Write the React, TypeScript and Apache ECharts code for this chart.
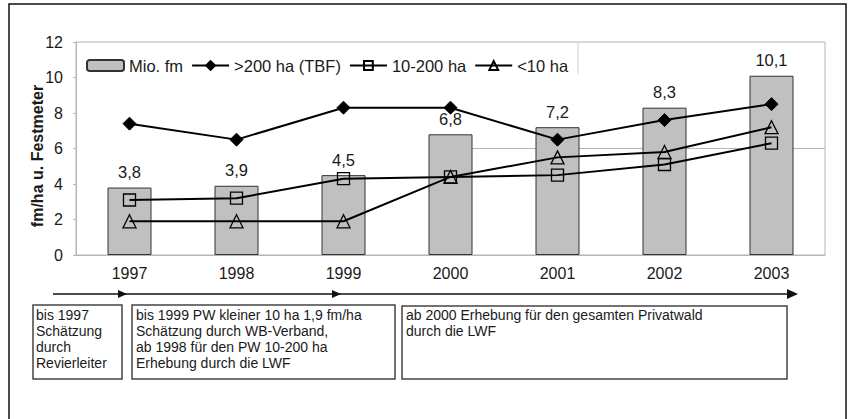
import React, { useEffect, useRef } from "react";
import * as echarts from "echarts";

const years = ["1997", "1998", "1999", "2000", "2001", "2002", "2003"];
const mioFm = [3.8, 3.9, 4.5, 6.8, 7.2, 8.3, 10.1];
const over200 = [7.4, 6.5, 8.3, 8.3, 6.5, 7.6, 8.5];
const mid10to200 = [3.1, 3.2, 4.3, 4.4, 4.5, 5.1, 6.3];
const under10 = [1.9, 1.9, 1.9, 4.4, 5.5, 5.8, 7.2];
const yTicks = { min: 0, max: 12, interval: 2 };

const box1 = ["bis 1997", "Schätzung", "durch", "Revierleiter"];
const box2 = [
  "bis 1999 PW kleiner 10 ha 1,9 fm/ha",
  "Schätzung durch WB-Verband,",
  "ab 1998 für den PW 10-200 ha",
  "Erhebung durch die LWF",
];
const box3 = ["ab 2000 Erhebung für den gesamten Privatwald", "durch die LWF"];

const FONT = "'Liberation Sans', Arial, sans-serif";
const TXT = "#1a1a1a";

export default function App() {
  const ref = useRef<HTMLDivElement>(null);
  useEffect(() => {
    const chart = echarts.init(ref.current!, null, { renderer: "svg" });
    const lineSeries = (name: string, data: number[], symbol: string, size: number, filled: boolean) => ({
      name,
      type: "line",
      data,
      symbol,
      symbolSize: size,
      showAllSymbol: true,
      z: 5,
      lineStyle: { color: "#000", width: 2 },
      itemStyle: filled
        ? { color: "#000", borderColor: "#000", borderWidth: 1 }
        : { color: "rgba(0,0,0,0)", borderColor: "#000", borderWidth: 1.3 },
    });

    const boxText = (lines: string[], x: number) =>
      lines.map((t, i) => ({
        type: "text",
        x,
        y: 315 + i * 16,
        style: { text: t, font: `14px ${FONT}`, fill: TXT, verticalAlign: "middle" },
        z: 10,
      }));

    const option: any = {
      animation: false,
      backgroundColor: "#fff",
      grid: { left: 76, right: 25, top: 42, bottom: 164, show: true, borderColor: "#b5b5b5", borderWidth: 1 },
      legend: {
        left: 81,
        top: 52,
        itemWidth: 37,
        itemHeight: 11,
        itemGap: 8,
        textStyle: { fontFamily: FONT, fontSize: 16.5, color: TXT },
        data: ["Mio. fm", ">200 ha (TBF)", "10-200 ha", "<10 ha"],
      },
      xAxis: {
        type: "category",
        data: years,
        axisLine: { lineStyle: { color: "#b5b5b5" } },
        axisTick: { show: false },
        axisLabel: { fontFamily: FONT, fontSize: 16, color: TXT, margin: 10 },
      },
      yAxis: {
        type: "value",
        ...yTicks,
        splitLine: { show: false },
        axisLine: { show: true, lineStyle: { color: "#b5b5b5" } },
        axisTick: { show: true, length: 3, lineStyle: { color: "#b5b5b5" } },
        axisLabel: { fontFamily: FONT, fontSize: 16, color: TXT, margin: 13 },
      },
      series: [
        {
          name: "Mio. fm",
          type: "bar",
          data: mioFm,
          barWidth: 44,
          z: 2,
          itemStyle: { color: "#c0c0c0", borderColor: "#333", borderWidth: 1 },
          label: {
            show: true,
            position: "top",
            distance: 7,
            fontFamily: FONT,
            fontSize: 16.5,
            color: TXT,
            formatter: (p: any) => String(p.value).replace(".", ","),
          },
        },
        lineSeries(">200 ha (TBF)", over200, "diamond", 13, true),
        lineSeries("10-200 ha", mid10to200, "rect", 12, false),
        lineSeries("<10 ha", under10, "triangle", 13, false),
      ],
    };
    chart.setOption(option);

    const [x6a, y6] = chart.convertToPixel({ gridIndex: 0 }, [3, 6]) as number[];

    chart.setOption({
      graphic: [
        {
          type: "line",
          z: 1,
          shape: { x1: x6a, y1: y6, x2: 825, y2: y6 },
          style: { stroke: "#b5b5b5", lineWidth: 1 },
        },
        {
          type: "line",
          z: 1,
          shape: { x1: 578, y1: 42, x2: 578, y2: 74 },
          style: { stroke: "#cfcfcf", lineWidth: 1 },
        },
        {
          type: "rect",
          z: 0,
          shape: { x: 9, y: 4, width: 837, height: 430 },
          style: { fill: "none", stroke: "#111", lineWidth: 1.5 },
        },
        {
          type: "text",
          x: 37,
          y: 156,
          rotation: Math.PI / 2,
          style: {
            text: "fm/ha u. Festmeter",
            font: `bold 16px ${FONT}`,
            fill: TXT,
            align: "center",
            verticalAlign: "middle",
          },
        },
        {
          type: "line",
          shape: { x1: 53, y1: 294, x2: 790, y2: 294 },
          style: { stroke: "#111", lineWidth: 1.5 },
        },
        { type: "polygon", shape: { points: [[118, 290], [127, 294], [118, 298]] }, style: { fill: "#111" } },
        { type: "polygon", shape: { points: [[332, 290], [341, 294], [332, 298]] }, style: { fill: "#111" } },
        { type: "polygon", shape: { points: [[787, 289], [798, 294], [787, 299]] }, style: { fill: "#111" } },
        { type: "rect", shape: { x: 33, y: 305, width: 89, height: 74 }, style: { fill: "#fff", stroke: "#444", lineWidth: 1.5 } },
        { type: "rect", shape: { x: 132, y: 305, width: 263, height: 74 }, style: { fill: "#fff", stroke: "#444", lineWidth: 1.5 } },
        { type: "rect", shape: { x: 402, y: 306, width: 385, height: 73 }, style: { fill: "#fff", stroke: "#444", lineWidth: 1.5 } },
        ...boxText(box1, 36),
        ...boxText(box2, 136),
        ...boxText(box3, 406),
      ],
    });
    return () => chart.dispose();
  }, []);
  return (
    <div
      ref={ref}
      style={{ position: "absolute", left: 0, top: 0, width: 850, height: 419 }}
    />
  );
}
